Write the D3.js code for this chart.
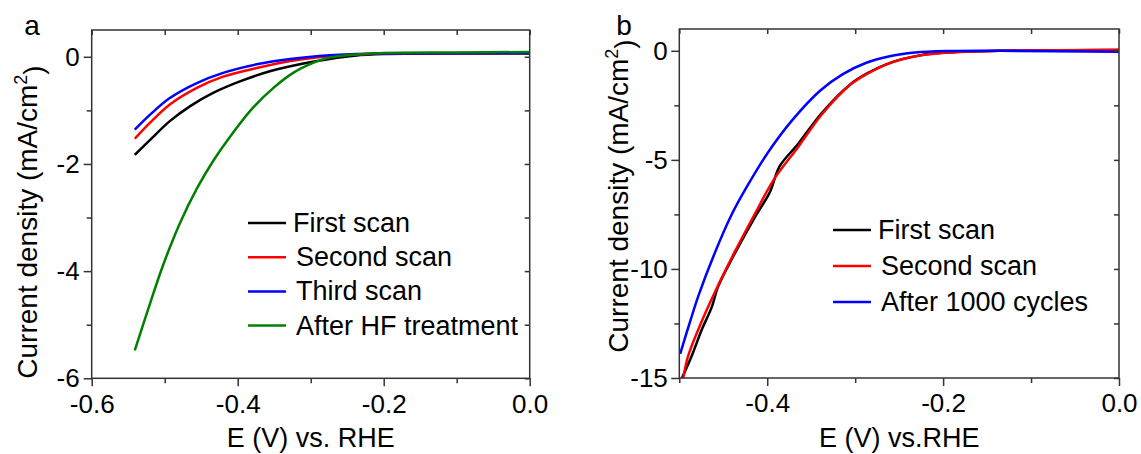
<html>
  <head>
    <script src="https://d3js.org/d3.v7.min.js"></script>
  </head>
  <body style="margin:0;background:#fff;">
    <div id="chart"></div>
    <script>
      // panel a : LSV scans, E (V vs RHE) / current density (mA/cm2)
      const aFirst = [[-0.541,-1.83],[-0.520,-1.55],[-0.493,-1.20],[-0.465,-0.92],[-0.433,-0.67],[-0.397,-0.46],[-0.356,-0.27],[-0.310,-0.125],[-0.274,-0.04],[-0.240,0.02],[-0.200,0.05],[-0.100,0.06],[0,0.06]];
      const aSecond = [[-0.541,-1.53],[-0.520,-1.23],[-0.493,-0.89],[-0.456,-0.58],[-0.420,-0.37],[-0.374,-0.21],[-0.328,-0.08],[-0.274,0.01],[-0.240,0.04],[-0.200,0.06],[0,0.07]];
      const aThird = [[-0.541,-1.36],[-0.520,-1.08],[-0.493,-0.77],[-0.456,-0.49],[-0.420,-0.30],[-0.374,-0.14],[-0.328,-0.04],[-0.274,0.03],[-0.240,0.05],[-0.200,0.06],[0,0.07]];
      const aHF = [[-0.541,-5.48],[-0.520,-4.60],[-0.502,-3.88],[-0.479,-3.10],[-0.456,-2.46],[-0.433,-1.93],[-0.411,-1.50],[-0.379,-0.95],[-0.351,-0.58],[-0.324,-0.30],[-0.296,-0.11],[-0.276,-0.02],[-0.250,0.03],[-0.200,0.07],[-0.100,0.08],[0,0.09]];

      // panel b : stability
      const bFirst = [[-0.497,-15],[-0.486,-14.0],[-0.4746,-12.8],[-0.463,-11.74],[-0.456,-10.82],[-0.437,-9.30],[-0.414,-7.62],[-0.397,-6.48],[-0.386,-5.30],[-0.365,-4.27],[-0.338,-2.85],[-0.306,-1.55],[-0.287,-1.05],[-0.258,-0.52],[-0.228,-0.22],[-0.194,-0.07],[-0.136,0],[0,0.04]];
      const bSecond = [[-0.4955,-15],[-0.490,-14.0],[-0.4766,-12.6],[-0.460,-11.1],[-0.437,-9.22],[-0.414,-7.47],[-0.392,-5.87],[-0.365,-4.42],[-0.338,-2.92],[-0.306,-1.57],[-0.287,-1.07],[-0.258,-0.53],[-0.228,-0.23],[-0.194,-0.08],[-0.136,0],[-0.050,0.03],[0,0.05]];
      const bCycles = [[-0.499,-13.89],[-0.488,-12.45],[-0.478,-11.2],[-0.460,-9.30],[-0.441,-7.55],[-0.422,-6.15],[-0.399,-4.65],[-0.372,-3.20],[-0.340,-1.83],[-0.314,-1.07],[-0.288,-0.56],[-0.262,-0.26],[-0.232,-0.08],[-0.194,-0.01],[-0.136,0],[0,-0.04]];

      const aLegend = ["First scan", "Second scan", "Third scan", "After HF treatment"];
      const bLegend = ["First scan", "Second scan", "After 1000 cycles"];

      const aXMajor = [-0.6, -0.4, -0.2, 0.0], aXMinor = [-0.5, -0.3, -0.1];
      const aYMajor = [0, -2, -4, -6], aYMinor = [-1, -3, -5];
      const bXMajor = [-0.4, -0.2, 0.0], bXMinor = [-0.5, -0.3, -0.1];
      const bYMajor = [0, -5, -10, -15], bYMinor = [-2.5, -7.5, -12.5];

      const width = 1141, height = 454;
      const font = "'Liberation Sans', Arial, sans-serif";
      const axisColor = "#333";

      const svg = d3.create("svg")
        .attr("width", width)
        .attr("height", height)
        .style("font-family", font);

      function panel(o) {
        const x = d3.scaleLinear().domain(o.xDomain).range([o.left, o.right]);
        const y = d3.scaleLinear().domain(o.yDomain).range([o.bottom, o.top]);
        const g = svg.append("g");

        // curves
        const line = d3.line().x(d => x(d[0])).y(d => y(d[1])).curve(d3.curveCatmullRom.alpha(0.5));
        o.series.forEach((s, i) => {
          g.append("path").datum(s).attr("d", line)
            .attr("fill", "none").attr("stroke", o.colors[i]).attr("stroke-width", 2.5);
        });

        function style(sel) {
          sel.select(".domain").remove();
          sel.selectAll("line").attr("stroke", axisColor).attr("stroke-width", 1.5);
          sel.selectAll("text").attr("fill", "#000").style("font-family", font).style("font-size", "26px");
        }

        // bottom
        g.append("g").attr("transform", `translate(0,${o.bottom})`)
          .call(d3.axisBottom(x).tickValues(o.xMajor).tickSize(8).tickPadding(8).tickFormat(d => d.toFixed(1)))
          .call(style);
        g.append("g").attr("transform", `translate(0,${o.bottom})`)
          .call(d3.axisBottom(x).tickValues(o.xMinor).tickSize(5).tickFormat(""))
          .call(style);
        // top (inward)
        g.append("g").attr("transform", `translate(0,${o.top})`)
          .call(d3.axisTop(x).tickValues(o.xMajor.concat(o.xMinor)).tickSize(-5).tickFormat(""))
          .call(style);
        // left
        g.append("g").attr("transform", `translate(${o.left},0)`)
          .call(d3.axisLeft(y).tickValues(o.yMajor).tickSize(8).tickPadding(o.yPad).tickFormat(d => String(d)))
          .call(style);
        g.append("g").attr("transform", `translate(${o.left},0)`)
          .call(d3.axisLeft(y).tickValues(o.yMinor).tickSize(5).tickFormat(""))
          .call(style);
        // right (inward)
        g.append("g").attr("transform", `translate(${o.right},0)`)
          .call(d3.axisRight(y).tickValues(o.yMajor.concat(o.yMinor)).tickSize(-5).tickFormat(""))
          .call(style);

        g.append("rect")
          .attr("x", o.left).attr("y", o.top)
          .attr("width", o.right - o.left).attr("height", o.bottom - o.top)
          .attr("fill", "none").attr("stroke", axisColor).attr("stroke-width", 1.5);

        // legend
        o.legend.forEach((name, i) => {
          const ly = o.legY + i * o.legStep;
          g.append("line")
            .attr("x1", o.legX).attr("x2", o.legX + 38)
            .attr("y1", ly).attr("y2", ly)
            .attr("stroke", o.colors[i]).attr("stroke-width", 2.5);
          g.append("text")
            .attr("x", o.legX + 45 + (i === 0 ? 0 : 3)).attr("y", ly + 9)
            .style("font-size", "27px").text(name);
        });

        // titles
        g.append("text").attr("x", (o.left + o.right) / 2).attr("y", 447)
          .attr("text-anchor", "middle").style("font-size", "27px").text(o.xTitle);

        const yt = g.append("text")
          .attr("transform", `translate(${o.yTitleX},${o.yTitleY}) rotate(-90)`)
          .attr("text-anchor", "middle").style("font-size", "28px");
        yt.append("tspan").text("Current density (mA/cm");
        yt.append("tspan").attr("dy", "-0.55em").style("font-size", "18px").text("2");
        yt.append("tspan").attr("dy", "0.55em").text(")");

        g.append("text").attr("x", o.tagX).attr("y", 35)
          .attr("text-anchor", "middle").style("font-size", "28px").text(o.tag);
      }

      panel({
        xDomain: [-0.6, 0], yDomain: [-6, 0.5],
        left: 91.7, right: 529.7, top: 30, bottom: 378.3,
        series: [aFirst, aSecond, aThird, aHF],
        colors: ["#000000", "#ff0000", "#0000ff", "#008000"],
        xMajor: aXMajor, xMinor: aXMinor, yMajor: aYMajor, yMinor: aYMinor, yPad: 4,
        legend: aLegend, legX: 248, legY: 223, legStep: 34.2,
        xTitle: "E (V) vs. RHE", yTitleX: 37, yTitleY: 222, tag: "a", tagX: 32
      });

      panel({
        xDomain: [-0.5, 0], yDomain: [-15, 1],
        left: 679.3, right: 1119, top: 29, bottom: 378,
        series: [bFirst, bSecond, bCycles],
        colors: ["#000000", "#ff0000", "#0000ff"],
        xMajor: bXMajor, xMinor: bXMinor, yMajor: bYMajor, yMinor: bYMinor, yPad: 3.5,
        legend: bLegend, legX: 833, legY: 230, legStep: 36,
        xTitle: "E (V) vs.RHE", yTitleX: 628, yTitleY: 196, tag: "b", tagX: 624
      });

      document.getElementById("chart").appendChild(svg.node());
    </script>
  </body>
</html>
